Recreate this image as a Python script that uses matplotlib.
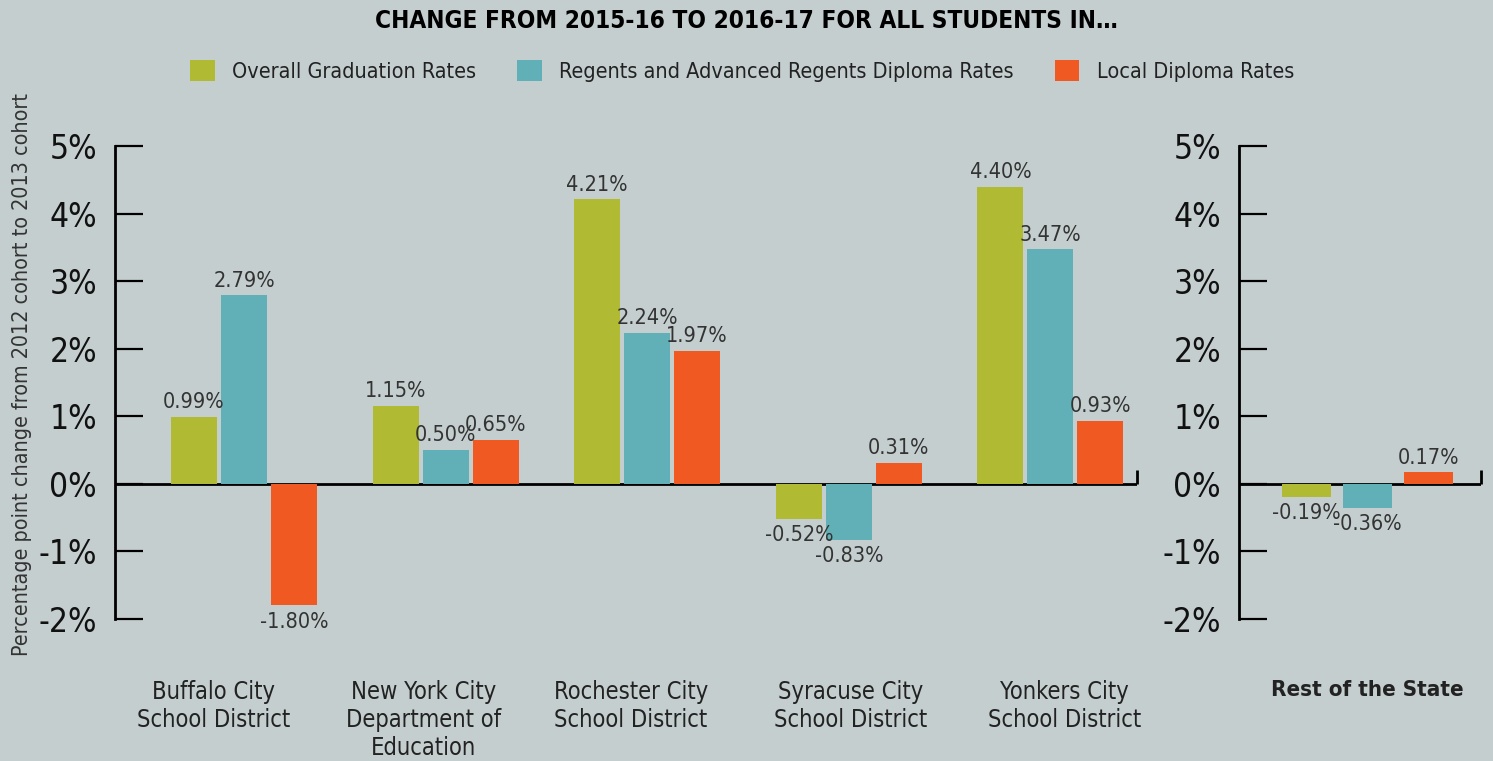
import numpy as np
import matplotlib
matplotlib.use("Agg")
import matplotlib.pyplot as plt
import matplotlib.font_manager as fm
from matplotlib.patches import Patch

# -----------------------------
# Data
# -----------------------------
districts = [
    "Buffalo City\nSchool District",
    "New York City\nDepartment of\nEducation",
    "Rochester City\nSchool District",
    "Syracuse City\nSchool District",
    "Yonkers City\nSchool District",
]
overall = [0.99, 1.15, 4.21, -0.52, 4.40]
regents = [2.79, 0.50, 2.24, -0.83, 3.47]
local = [-1.80, 0.65, 1.97, 0.31, 0.93]

rest_label = "Rest of the State"
rest_values = [-0.19, -0.36, 0.17]

series_names = ["Overall Graduation Rates",
                "Regents and Advanced Regents Diploma Rates",
                "Local Diploma Rates"]
colors = ["#b0bb33", "#62b0b7", "#f05a22"]
y_ticks = [-2, -1, 0, 1, 2, 3, 4, 5]

BG = "#c5cecf"

# pick a narrow font if one is there
names = {f.name for f in fm.fontManager.ttflist}
if "Liberation Sans Narrow" in names:
    FONT, STRETCH = "Liberation Sans Narrow", "normal"
elif any(f.name == "DejaVu Sans" and f.stretch == "condensed" for f in fm.fontManager.ttflist):
    FONT, STRETCH = "DejaVu Sans", "condensed"
else:
    FONT, STRETCH = "Roboto", "normal"
plt.rcParams["font.family"] = [FONT, "DejaVu Sans"]
plt.rcParams["font.stretch"] = STRETCH


def style_axis(ax, xlim):
    ax.set_facecolor(BG)
    ax.set_xlim(*xlim)
    ax.set_ylim(-2, 5)
    for s in ["top", "right", "bottom"]:
        ax.spines[s].set_visible(False)
    ax.spines["left"].set_linewidth(2)
    ax.set_yticks(y_ticks)
    ax.set_yticklabels([f"{t}%" for t in y_ticks], fontsize=24, color="#111111")
    ax.tick_params(axis="y", direction="in", length=20, width=1.6, pad=13)
    ax.tick_params(axis="x", length=0, pad=44)
    # zero line with a small end tick
    ax.axhline(0, color="black", lw=2, zorder=1)
    ax.vlines(xlim[1], 0, 0.2, color="black", lw=2, clip_on=False, zorder=1)


def label_bars(ax, bars, vals):
    for b, v in zip(bars, vals):
        x = b.get_x() + b.get_width() / 2
        if v >= 0:
            ax.text(x, v + 0.07, f"{v:.2f}%", ha="center", va="bottom",
                    fontsize=15.5, color="#333333")
        else:
            ax.text(x, v - 0.09, f"{v:.2f}%", ha="center", va="top",
                    fontsize=15.5, color="#333333")


fig = plt.figure(figsize=(14.93, 7.61), dpi=100, facecolor=BG)

# -----------------------------
# Main panel: the five districts
# -----------------------------
ax = fig.add_axes([0.0770, 0.1866, 0.6846, 0.6215])
style_axis(ax, (-0.64, 4.43))
x = np.arange(len(districts))
step, width = 0.248, 0.228
for i, vals in enumerate([overall, regents, local]):
    bars = ax.bar(x + (i - 1) * step, vals, width=width, color=colors[i], zorder=2)
    label_bars(ax, bars, vals)
# the district names sit a little off the group centres in the original
label_shift = np.array([-0.15, -0.11, -0.08, 0.01, 0.07])
ax.set_xticks(x + label_shift)
ax.set_xticklabels(districts, fontsize=17, color="#222222", linespacing=1.22, va="top")
ax.set_ylabel("Percentage point change from 2012 cohort to 2013 cohort",
              fontsize=15.4, color="#333333")
ax.yaxis.set_label_coords(-0.081, 0.517)

# -----------------------------
# Right panel: rest of the state
# -----------------------------
ax2 = fig.add_axes([0.8299, 0.1866, 0.1621, 0.6215])
style_axis(ax2, (-0.638, 0.563))
for i, v in enumerate(rest_values):
    bars = ax2.bar([(i - 1) * 0.303], [v], width=0.243, color=colors[i], zorder=2)
    label_bars(ax2, bars, [v])
ax2.set_xticks([0])
ax2.set_xticklabels([rest_label], fontsize=16, fontweight="bold", color="#222222")

# -----------------------------
# Title and legend
# -----------------------------
fig.text(0.4997, 0.973, "CHANGE FROM 2015-16 TO 2016-17 FOR ALL STUDENTS IN…",
         ha="center", va="center", fontsize=17.5, fontweight="bold", color="black")
handles = [Patch(facecolor=c, edgecolor="none") for c in colors]
fig.legend(handles, series_names, loc="center", bbox_to_anchor=(0.497, 0.907),
           ncol=3, frameon=False, fontsize=15.5, handlelength=1.15, handleheight=1.15,
           handletextpad=0.8, columnspacing=1.9, labelcolor="#222222")

fig.savefig("out.png", dpi=100, facecolor=BG)
